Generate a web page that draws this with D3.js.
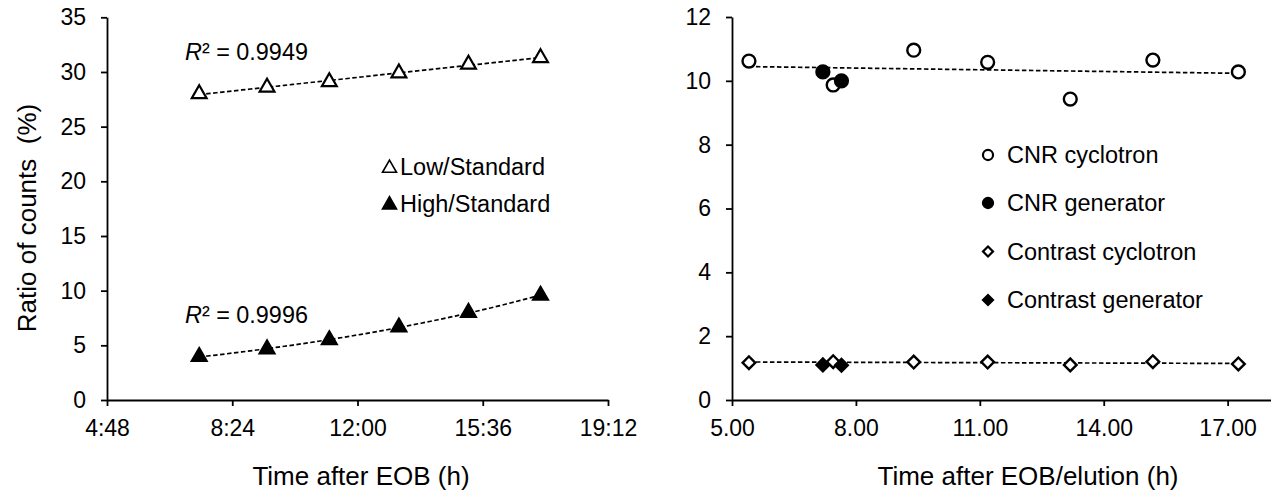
<!DOCTYPE html>
<html>
<head>
<meta charset="utf-8">
<script src="https://cdn.jsdelivr.net/npm/d3@7"></script>
<style>
  body { margin: 0; background: #fff; }
  svg { display: block; font-family: "Liberation Sans", Arial, sans-serif; }
  .axis path, .axis line { stroke: #000; stroke-width: 1.8; }
  .axis text { font-size: 23px; fill: #000; }
  .trend { fill: none; stroke: #000; stroke-width: 1.7; stroke-dasharray: 4.5,2.5; }
</style>
</head>
<body>
<div id="chart"></div>
<script>

// ---- data ----
// left panel: time after EOB in hours (4:48 = 4.8 h ...)
var leftTime = [7.45, 9.40, 11.19, 13.19, 15.19, 17.26];
var lowStandard = [28.0, 28.6, 29.1, 29.9, 30.7, 31.3];
var highStandard = [3.96, 4.66, 5.49, 6.66, 8.0, 9.56];
var leftTickValues = [4.8, 8.4, 12, 15.6, 19.2];
var leftTickLabels = ["4:48", "8:24", "12:00", "15:36", "19:12"];
var leftYTicks = [0, 5, 10, 15, 20, 25, 30, 35];
var r2Labels = ["0.9949", "0.9996"];

// right panel: time after EOB / elution in hours
var cycTime = [5.41, 7.45, 9.40, 11.19, 13.19, 15.19, 17.26];
var genTime = [7.20, 7.65];
var cnrCyclotron = [10.62, 9.87, 10.96, 10.58, 9.43, 10.65, 10.28];
var cnrGenerator = [10.28, 10.0];
var contrastCyclotron = [1.17, 1.20, 1.19, 1.19, 1.10, 1.20, 1.13];
var contrastGenerator = [1.10, 1.09];
var rightXTicks = [5, 8, 11, 14, 17];
var rightYTicks = [0, 2, 4, 6, 8, 10, 12];
var rightLegend = ["CNR cyclotron", "CNR generator", "Contrast cyclotron", "Contrast generator"];

var W = 1271, H = 497;

var svg = d3.select("#chart").append("svg")
    .attr("width", W)
    .attr("height", H);

// simple least squares
function linFit(xs, ys) {
  var mx = d3.mean(xs), my = d3.mean(ys);
  var sxy = d3.sum(xs, function(x, i) { return (x - mx) * (ys[i] - my); });
  var sxx = d3.sum(xs, function(x) { return (x - mx) * (x - mx); });
  var b = sxy / sxx;
  return { a: my - b * mx, b: b };
}

function zip(xs, ys) {
  return xs.map(function(x, i) { return { x: x, y: ys[i] }; });
}

// ================= LEFT PANEL =================
var x1 = d3.scaleLinear().domain([4.8, 19.2]).range([107, 608]);
var y1 = d3.scaleLinear().domain([0, 35]).range([400, 17.3]);

svg.append("g")
    .attr("class", "axis")
    .attr("transform", "translate(" + x1.range()[0] + ",0)")
    .call(d3.axisLeft(y1).tickValues(leftYTicks).tickSize(6).tickSizeOuter(0).tickPadding(15));

svg.append("g")
    .attr("class", "axis")
    .attr("transform", "translate(0," + y1.range()[0] + ")")
    .call(d3.axisBottom(x1).tickValues(leftTickValues).tickSize(6).tickSizeOuter(0).tickPadding(14)
      .tickFormat(function(d, i) { return leftTickLabels[i]; }));

// trendlines: linear for low, exponential for high
var lowFit = linFit(leftTime, lowStandard);
var highFit = linFit(leftTime, highStandard.map(Math.log));
var xs1 = d3.range(0, 41).map(function(i) {
  return leftTime[0] + (leftTime[leftTime.length - 1] - leftTime[0]) * i / 40;
});

var line1 = d3.line().x(function(d) { return x1(d.x); }).y(function(d) { return y1(d.y); });

svg.append("path").attr("class", "trend")
    .attr("d", line1(xs1.map(function(x) { return { x: x, y: lowFit.a + lowFit.b * x }; })));
svg.append("path").attr("class", "trend")
    .attr("d", line1(xs1.map(function(x) { return { x: x, y: Math.exp(highFit.a + highFit.b * x) }; })));

var tri = d3.symbol().type(d3.symbolTriangle).size(95);

svg.append("g").selectAll("path")
    .data(zip(leftTime, lowStandard))
  .enter().append("path")
    .attr("d", tri)
    .attr("transform", function(d) { return "translate(" + x1(d.x) + "," + y1(d.y) + ")"; })
    .attr("fill", "#fff").attr("stroke", "#000").attr("stroke-width", 2.2);

svg.append("g").selectAll("path")
    .data(zip(leftTime, highStandard))
  .enter().append("path")
    .attr("d", tri)
    .attr("transform", function(d) { return "translate(" + x1(d.x) + "," + y1(d.y) + ")"; })
    .attr("fill", "#000").attr("stroke", "#000").attr("stroke-width", 2.2);

// R² labels
[[59.5, r2Labels[0]], [323, r2Labels[1]]].forEach(function(p) {
  var t = svg.append("text")
      .attr("x", 185)
      .attr("y", p[0])
      .style("font-size", "23.4px");
  t.append("tspan").style("font-style", "italic").text("R");
  t.append("tspan").text("\u00B2 = " + p[1]);
});

// left legend
var legTri = d3.symbol().type(d3.symbolTriangle).size(85);
[["Low/Standard", "#fff", 166.7], ["High/Standard", "#000", 203.3]].forEach(function(l) {
  svg.append("path")
      .attr("d", legTri)
      .attr("transform", "translate(389.5," + (l[2] + 1.5) + ")")
      .attr("fill", l[1]).attr("stroke", "#000").attr("stroke-width", 1.6);
  svg.append("text")
      .attr("x", 400)
      .attr("y", l[2] + 8.3)
      .style("font-size", "23.5px")
      .text(l[0]);
});

// axis titles
svg.append("text")
    .attr("transform", "translate(36," + 218 + ") rotate(-90)")
    .attr("text-anchor", "middle")
    .style("font-size", "26px")
    .style("white-space", "pre")
    .text("Ratio of counts  (%)");

svg.append("text")
    .attr("x", 361)
    .attr("y", 485)
    .attr("text-anchor", "middle")
    .style("font-size", "26px")
    .text("Time after EOB (h)");

// ================= RIGHT PANEL =================
var x2 = d3.scaleLinear().domain([5, 18.05]).range([732, 1271]);
var y2 = d3.scaleLinear().domain([0, 12]).range([400, 17]);

svg.append("g")
    .attr("class", "axis")
    .attr("transform", "translate(" + x2.range()[0] + ",0)")
    .call(d3.axisLeft(y2).tickValues(rightYTicks).tickSize(6).tickSizeOuter(0).tickPadding(15));

svg.append("g")
    .attr("class", "axis")
    .attr("transform", "translate(0," + y2.range()[0] + ")")
    .call(d3.axisBottom(x2).tickValues(rightXTicks).tickSize(6).tickSizeOuter(0).tickPadding(14)
      .tickFormat(d3.format(".2f")));

var line2 = d3.line().x(function(d) { return x2(d.x); }).y(function(d) { return y2(d.y); });
var x0 = cycTime[0], xN = cycTime[cycTime.length - 1];

var cnrFit = linFit(cycTime, cnrCyclotron);
var conFit = linFit(cycTime, contrastCyclotron);
[cnrFit, conFit].forEach(function(f) {
  svg.append("path").attr("class", "trend")
      .attr("d", line2([{ x: x0, y: f.a + f.b * x0 }, { x: xN, y: f.a + f.b * xN }]));
});

var circ = d3.symbol().type(d3.symbolCircle).size(130);
var diam = d3.symbol().type(d3.symbolSquare).size(80);

function drawMarks(sym, xs, ys, fill, rot) {
  svg.append("g").selectAll("path")
      .data(zip(xs, ys))
    .enter().append("path")
      .attr("d", sym)
      .attr("transform", function(d) { return "translate(" + x2(d.x) + "," + y2(d.y) + ") rotate(" + rot + ")"; })
      .attr("fill", fill).attr("stroke", "#000").attr("stroke-width", 2.4);
}

drawMarks(circ, cycTime, cnrCyclotron, "#fff", 0);
drawMarks(circ, genTime, cnrGenerator, "#000", 0);
drawMarks(diam, cycTime, contrastCyclotron, "#fff", 45);
drawMarks(diam, genTime, contrastGenerator, "#000", 45);

// right legend
var legY = [155, 203, 251.5, 300];
var legSym = [
  [d3.symbol().type(d3.symbolCircle).size(80), "#fff", 0],
  [d3.symbol().type(d3.symbolCircle).size(80), "#000", 0],
  [d3.symbol().type(d3.symbolSquare).size(50), "#fff", 45],
  [d3.symbol().type(d3.symbolSquare).size(50), "#000", 45]
];
rightLegend.forEach(function(name, i) {
  svg.append("path")
      .attr("d", legSym[i][0])
      .attr("transform", "translate(988," + legY[i] + ") rotate(" + legSym[i][2] + ")")
      .attr("fill", legSym[i][1]).attr("stroke", "#000").attr("stroke-width", 2.2);
  svg.append("text")
      .attr("x", 1007)
      .attr("y", legY[i] + 8.3)
      .style("font-size", "23.5px")
      .text(name);
});

svg.append("text")
    .attr("x", 1028)
    .attr("y", 485)
    .attr("text-anchor", "middle")
    .style("font-size", "26px")
    .text("Time after EOB/elution (h)");

</script>
</body>
</html>
